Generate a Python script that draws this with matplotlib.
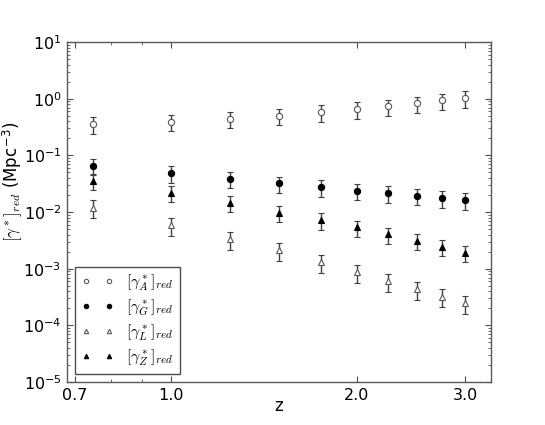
import numpy as np
import matplotlib
matplotlib.use('Agg')
import matplotlib.pyplot as plt
from matplotlib.ticker import FixedLocator, FixedFormatter, NullFormatter


plt.rcParams['mathtext.fontset'] = 'cm'
plt.rcParams['font.family'] = 'DejaVu Sans'

# redshift bins
z = [0.75, 1.0, 1.25, 1.5, 1.75, 2.0, 2.25, 2.5, 2.75, 3.0]

# reduced rates
gamma_A = [0.353, 0.39, 0.44, 0.50, 0.575, 0.65, 0.73, 0.83, 0.935, 1.03]
gamma_G = [0.0658, 0.049, 0.0388, 0.0321, 0.0273, 0.0238, 0.0214, 0.0194, 0.0177, 0.0161]
gamma_L = [0.0120, 0.0059, 0.0033, 0.0021, 0.00130, 0.00087, 0.00060, 0.00044, 0.00032, 0.000245]
gamma_Z = [0.036, 0.0219, 0.0146, 0.0098, 0.0072, 0.0054, 0.00404, 0.0031, 0.00245, 0.00191]

# symmetric errors
err_A = [0.115, 0.125, 0.14, 0.16, 0.185, 0.21, 0.235, 0.265, 0.30, 0.33]
err_G = [0.021, 0.016, 0.0125, 0.0103, 0.0088, 0.0076, 0.0069, 0.0062, 0.0057, 0.0052]
err_L = [0.0042, 0.0021, 0.0012, 0.00074, 0.00046, 0.00031, 0.00021, 0.000155, 0.000112, 0.000086]
err_Z = [0.0115, 0.0070, 0.0047, 0.0031, 0.0023, 0.0017, 0.0013, 0.0010, 0.00078, 0.00061]

labels = [r'$[\gamma_A^*]_{red}$', r'$[\gamma_G^*]_{red}$',
          r'$[\gamma_L^*]_{red}$', r'$[\gamma_Z^*]_{red}$']


if __name__=="__main__":

    fig = plt.figure(figsize=(5.45, 4.25), dpi=100)
    ax = fig.add_axes([0.123, 0.101, 0.778, 0.800])

    series = [(gamma_A, err_A, 'o', 'white', '0.35'),
              (gamma_G, err_G, 'o', 'black', 'black'),
              (gamma_L, err_L, '^', 'white', '0.35'),
              (gamma_Z, err_Z, '^', 'black', 'black')]

    for (vals, errs, mk, fc, ec), lab in zip(series, labels):
        ax.errorbar(z, vals, yerr=errs, fmt=mk, mfc=fc, mec=ec, mew=0.8,
                    ms=4.5, ecolor='0.25', elinewidth=1.0, capsize=2.2,
                    capthick=1.0, label=lab)

    ax.set_xscale('log')
    ax.set_yscale('log')
    ax.set_xlim(0.68, 3.3)
    ax.set_ylim(1e-5, 1e1)

    ax.xaxis.set_major_locator(FixedLocator([0.7, 1.0, 2.0, 3.0]))
    ax.xaxis.set_major_formatter(FixedFormatter(['0.7', '1.0', '2.0', '3.0']))
    ax.xaxis.set_minor_locator(FixedLocator([0.8, 0.9]))
    ax.xaxis.set_minor_formatter(NullFormatter())
    ax.yaxis.set_minor_formatter(NullFormatter())

    ax.tick_params(which='both', direction='in', top=True, right=True,
                   labelsize=11.5, color='0.3')
    ax.tick_params(which='major', length=4, pad=4)
    ax.tick_params(which='minor', length=2)
    for sp in ax.spines.values():
        sp.set_color('0.35')
        sp.set_linewidth(1.0)

    ax.set_xlabel('z', fontsize=12)
    ax.set_ylabel(r'$[\gamma^*]_{red}$ (Mpc$^{\mathdefault{-3}}$)', fontsize=12)
    ax.xaxis.set_label_coords(0.5, -0.045)
    ax.yaxis.set_label_coords(-0.099, 0.588)

    handles, labs = ax.get_legend_handles_labels()
    handles = [h[0] for h in handles]
    leg = ax.legend(handles, labs, loc='lower left', numpoints=2,
                    fancybox=False, framealpha=1, edgecolor='0.3',
                    fontsize=11.5, markerscale=0.7, handlelength=2.0,
                    labelspacing=0.3, borderaxespad=0.5)
    leg.get_frame().set_linewidth(1.0)

    plt.savefig('out.png', dpi=100)
